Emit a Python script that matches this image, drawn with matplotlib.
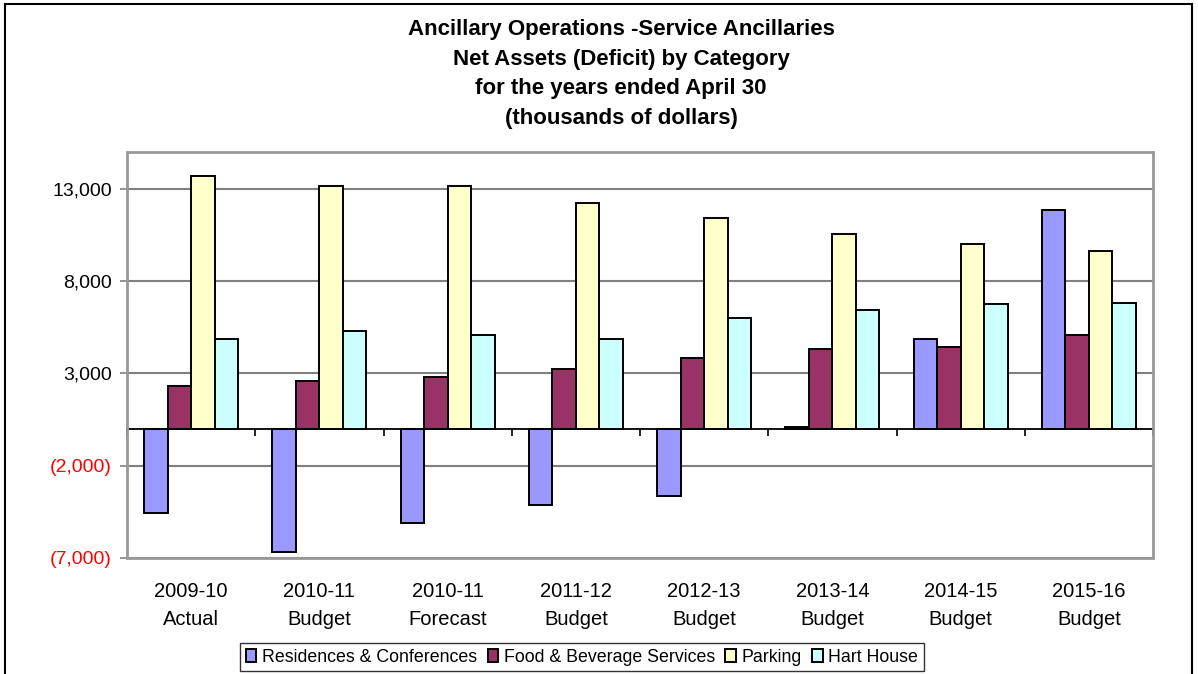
import matplotlib
matplotlib.use("Agg")
import matplotlib.pyplot as plt
from matplotlib.patches import Rectangle
import numpy as np

categories = ["2009-10\nActual", "2010-11\nBudget", "2010-11\nForecast", "2011-12\nBudget",
              "2012-13\nBudget", "2013-14\nBudget", "2014-15\nBudget", "2015-16\nBudget"]
residences = [-4550, -6650, -5100, -4150, -3630, 120, 4870, 11840]
food = [2300, 2600, 2800, 3220, 3850, 4350, 4450, 5080]
parking = [13680, 13180, 13180, 12250, 11400, 10580, 10040, 9640]
hart_house = [4870, 5290, 5090, 4870, 6020, 6420, 6750, 6840]

series_names = ["Residences & Conferences", "Food & Beverage Services", "Parking", "Hart House"]
series_values = [residences, food, parking, hart_house]
series_colors = ["#9999FF", "#993366", "#FFFFCC", "#CCFFFF"]

plt.rcParams["font.family"] = ["Liberation Sans", "DejaVu Sans"]

fig = plt.figure(figsize=(11.98, 6.74), dpi=100)
ax = fig.add_axes([127 / 1198, 1 - 558 / 674, (1153 - 127) / 1198, (558 - 152) / 674])

x = np.arange(len(categories))
w = 0.183
for i, (name, vals, col) in enumerate(zip(series_names, series_values, series_colors)):
    ax.bar(x + (i - 1.5) * w, vals, w, color=col, edgecolor="black", linewidth=1.4,
           label=name, zorder=3)

ax.set_xlim(-0.5, len(categories) - 0.5)
ax.set_ylim(-7000, 15000)

yticks = [-7000, -2000, 3000, 8000, 13000]
ax.set_yticks(yticks)
labels = []
for v in yticks:
    if v < 0:
        labels.append("({:,})".format(-v))
    else:
        labels.append("{:,}".format(v))
ax.set_yticklabels(labels, fontsize=14)
for t, v in zip(ax.get_yticklabels(), yticks):
    if v < 0:
        t.set_color("red")
ax.tick_params(axis="y", length=5, color="#808080", width=1.2, pad=6)
for v in yticks:
    ax.axhline(v, color="#808080", linewidth=1.5, zorder=1)

# category axis crosses at zero
ax.spines["bottom"].set_position(("data", 0))
ax.spines["bottom"].set_color("black")
ax.spines["bottom"].set_linewidth(1.3)
ax.spines["bottom"].set_zorder(4)
for s in ["top", "left", "right"]:
    ax.spines[s].set_visible(False)
ax.set_xticks(np.arange(-0.5, len(categories), 1.0))
ax.set_xticklabels([])
ax.tick_params(axis="x", direction="out", length=5, width=1.2, color="black")

# plot area border
ax.add_patch(Rectangle((0, 0), 1, 1, transform=ax.transAxes, fill=False,
                       edgecolor="#999999", linewidth=2, zorder=5, clip_on=False))

for xi, lab in zip(x, categories):
    ax.text(xi, -0.06, lab, transform=ax.get_xaxis_transform(), ha="center", va="top",
            fontsize=14.5, linespacing=1.6)

fig.text(621 / 1198, 1 - 74 / 674,
         "Ancillary Operations -Service Ancillaries\nNet Assets (Deficit) by Category\n"
         "for the years ended April 30\n(thousands of dollars)",
         ha="center", va="center", fontsize=16, fontweight="bold", linespacing=1.55)

leg = fig.legend(loc="center", bbox_to_anchor=(582 / 1198, 1 - 657 / 674), ncol=4,
                 fontsize=12.8, frameon=True, fancybox=False, edgecolor="black",
                 handlelength=0.6, handleheight=0.7, handletextpad=0.3,
                 columnspacing=0.6, borderpad=0.3, borderaxespad=0)
leg.get_frame().set_linewidth(1.0)

# chart border
fig.patches.append(Rectangle((5 / 1198, -0.1), 1187 / 1198, 1.1 - 4 / 674,
                             transform=fig.transFigure, fill=False,
                             edgecolor="black", linewidth=1.5))

fig.savefig("out.png", dpi=100)
